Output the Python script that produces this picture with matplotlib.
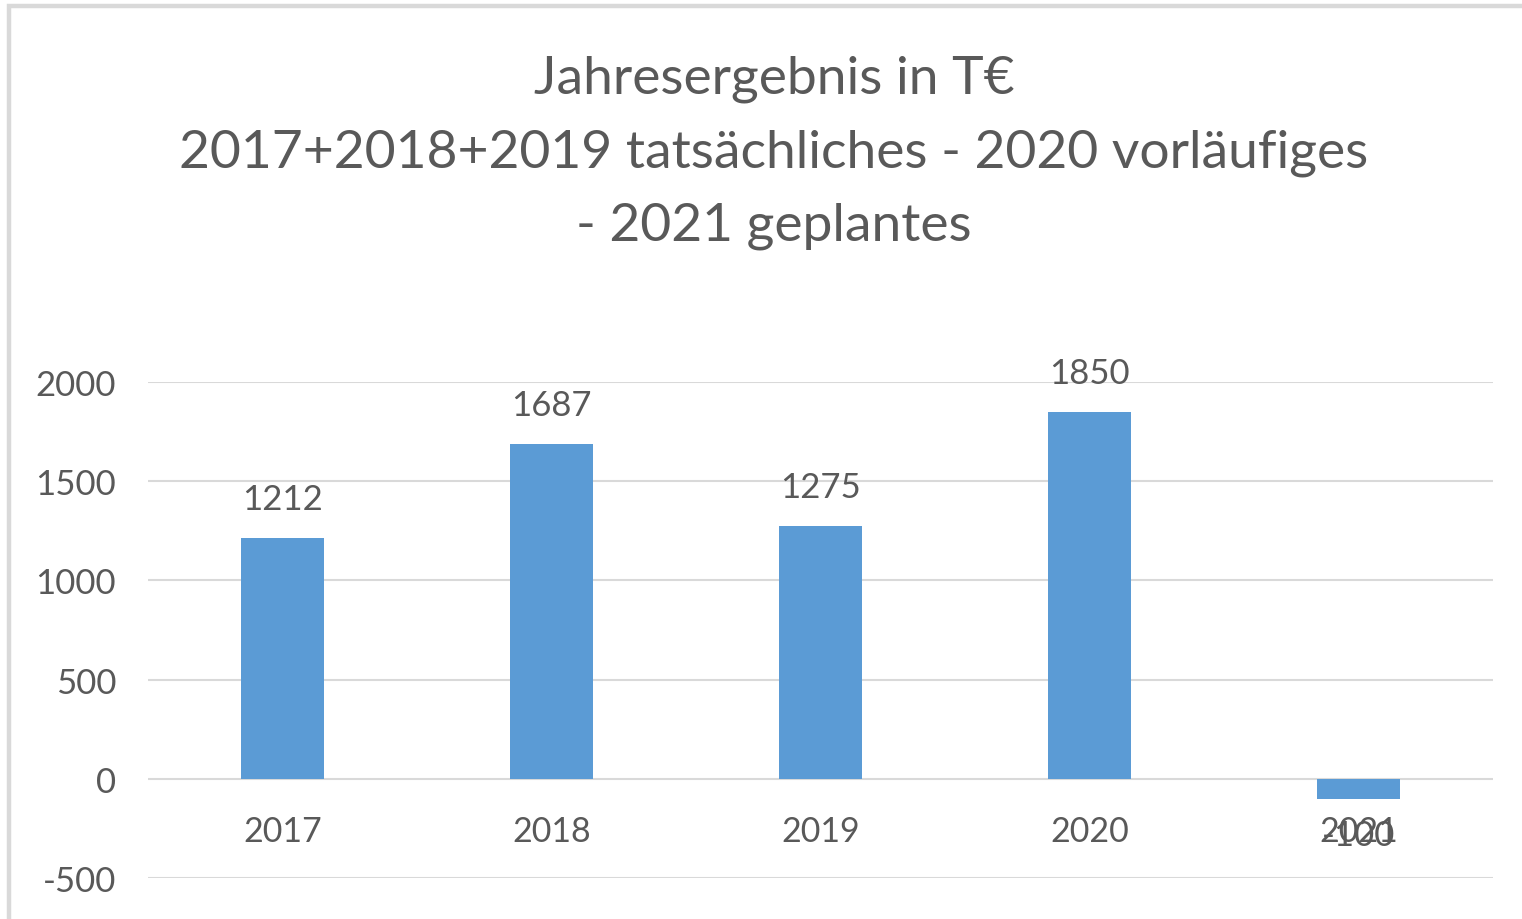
import matplotlib.pyplot as plt
from matplotlib.patches import Rectangle

# --- Daten ---
years = ["2017", "2018", "2019", "2020", "2021"]
values = [1212, 1687, 1275, 1850, -100]
y_ticks = [-500, 0, 500, 1000, 1500, 2000]
title = "Jahresergebnis in T€\n2017+2018+2019 tatsächliches - 2020 vorläufiges\n- 2021 geplantes"

plt.rcParams['font.family'] = ['Lato', 'DejaVu Sans']
text_col = '#595959'
bar_col = '#5B9BD5'
grid_col = '#D9D9D9'

fig = plt.figure(figsize=(15.22, 9.2), dpi=100)

# Rahmen (oben und links sichtbar)
fig.patches.append(Rectangle((9 / 1522, -0.1), 1.2, 1.1 - 7 / 920,
                             transform=fig.transFigure, fill=False,
                             edgecolor=grid_col, linewidth=3.2))

ax = fig.add_axes([148 / 1522, 41 / 920, 1345 / 1522, 496 / 920])
x = range(len(years))
ax.bar(x, values, width=0.31, color=bar_col, zorder=2)
ax.set_xlim(-0.5, len(years) - 0.5)
ax.set_ylim(-500, 2000)
ax.set_yticks(y_ticks)
ax.set_yticklabels([str(v) for v in y_ticks])
ax.grid(axis='y', color=grid_col, linewidth=1.5, zorder=0)
for s in ax.spines.values():
    s.set_visible(False)
ax.tick_params(axis='y', length=0, pad=23, labelsize=25, labelcolor=text_col)

# Kategorien an der Nulllinie
ax.spines['bottom'].set_position(('data', 0))
ax.set_xticks(list(x))
ax.set_xticklabels(years)
ax.tick_params(axis='x', length=0, pad=26, labelsize=24.5, labelcolor=text_col)

# Datenbeschriftungen
for i, v in enumerate(values):
    off = 28 if v >= 0 else -26
    ax.annotate(str(v), (i, v), xytext=(0, off), textcoords='offset points',
                ha='center', va='center', fontsize=25, color=text_col)

fig.text(774 / 1522, 1 - 153 / 920, title, ha='center', va='center',
         fontsize=38.4, color=text_col, linespacing=1.68)

fig.savefig("out.png", dpi=100)
